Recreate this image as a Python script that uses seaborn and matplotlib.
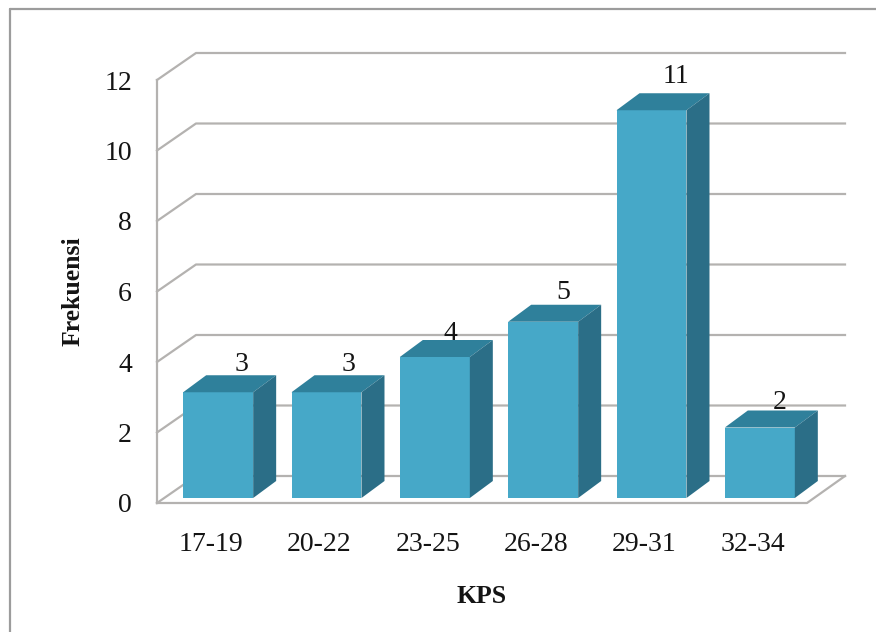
import matplotlib
matplotlib.use("Agg")
import matplotlib.pyplot as plt
from matplotlib.lines import Line2D
from matplotlib.patches import Polygon
from matplotlib.transforms import Affine2D, IdentityTransform
import seaborn as sns

# Frequency of KPS score classes
categories = ["17-19", "20-22", "23-25", "26-28", "29-31", "32-34"]
frequencies = [3, 3, 4, 5, 11, 2]
y_ticks = [0, 2, 4, 6, 8, 10, 12]

FRONT = "#46a8c8"
TOP = "#2f809b"
SIDE = "#2b6e87"
GRID = "#b4b2b0"
TEXT = "#141414"

WIDTH, HEIGHT = 876, 632
WALL_DEPTH = (39, 27)      # depth of the floor and back wall, in pixels
BAR_INSET = (7, 5)         # bars stand slightly behind the front floor edge
BAR_DEPTH = (23, 17)       # extrusion of each column
LABEL_RAISE = [11, 11, 6, 12, 17, 8]
LABEL_DRIFT = [0, -1, -7, -3, 1, -3]

sns.set_theme(style="white")
plt.rcParams["font.family"] = ["Liberation Serif", "DejaVu Serif"]

fig = plt.figure(figsize=(WIDTH / 100, HEIGHT / 100), dpi=100, facecolor="white")
ax = fig.add_axes([157 / WIDTH, (HEIGHT - 503) / HEIGHT, 650 / WIDTH, 423 / HEIGHT])

sns.barplot(x=categories, y=frequencies, color=FRONT, saturation=1,
            width=0.646, linewidth=0, ax=ax, zorder=3)
ax.set_xlim(-0.5, 5.5)
ax.set_ylim(0, 12)
ax.set_yticks(y_ticks)
sns.despine(ax=ax, left=True, bottom=True)
ax.patch.set_visible(False)

ax.tick_params(axis="y", length=0, pad=18, labelsize=20, labelcolor=TEXT)
ax.tick_params(axis="x", length=0, pad=21, labelsize=20, labelcolor=TEXT)
ax.set_xlabel("KPS", fontsize=18.5, fontweight="bold", color=TEXT, labelpad=20)
ax.set_ylabel("Frekuensi", fontsize=18.5, fontweight="bold", color=TEXT, labelpad=14.5)

ident = IdentityTransform()
fig.canvas.draw()
to_px = ax.transData.transform


def line_px(xs, ys, zorder=1):
    ax.add_line(Line2D(xs, ys, color=GRID, lw=1.6, transform=ident, zorder=zorder,
                       clip_on=False, solid_capstyle="projecting"))


# Left wall, back wall gridlines and floor outline
x_left, y_zero = to_px((-0.5, 0))
x_right, _ = to_px((5.5, 0))
_, y_full = to_px((-0.5, 12))
dx_w, dy_w = WALL_DEPTH
for tick in y_ticks:
    _, y = to_px((-0.5, tick))
    line_px([x_left, x_left + dx_w, x_right + dx_w - 1], [y, y + dy_w, y + dy_w])
line_px([x_left, x_left], [y_zero, y_full], zorder=2)
line_px([x_left, x_right, x_right + dx_w - 1], [y_zero, y_zero, y_zero + dy_w], zorder=2)

# Extrude each column, then add its value above the top face
ix, iy = BAR_INSET
dx_b, dy_b = BAR_DEPTH
for bar, value, raised, drift in zip(ax.patches, frequencies, LABEL_RAISE, LABEL_DRIFT):
    x0, y0 = to_px((bar.get_x(), 0))
    x1, y1 = to_px((bar.get_x() + bar.get_width(), value))
    bar.set_transform(ax.transData + Affine2D().translate(ix, iy))
    x0, x1, y0, y1 = x0 + ix, x1 + ix, y0 + iy, y1 + iy
    ax.add_patch(Polygon([(x0, y1), (x1, y1), (x1 + dx_b, y1 + dy_b), (x0 + dx_b, y1 + dy_b)],
                         closed=True, fc=TOP, ec="none", transform=ident, zorder=3,
                         clip_on=False))
    ax.add_patch(Polygon([(x1, y0), (x1 + dx_b, y0 + dy_b), (x1 + dx_b, y1 + dy_b), (x1, y1)],
                         closed=True, fc=SIDE, ec="none", transform=ident, zorder=3,
                         clip_on=False))
    ax.text((x0 + x1) / 2 + dx_b + drift, y1 + dy_b + raised, str(value), transform=ident,
            ha="center", va="center", fontsize=20, color=TEXT, zorder=5)

# Thin picture border along the top and left edges
for xs, ys in (([10, 10], [9, HEIGHT]), ([10, WIDTH], [9, 9])):
    fig.add_artist(Line2D(xs, [HEIGHT - v for v in ys], color="#9c9c9c", lw=1.6,
                          transform=ident))

fig.savefig("out.png", dpi=100, facecolor="white")
